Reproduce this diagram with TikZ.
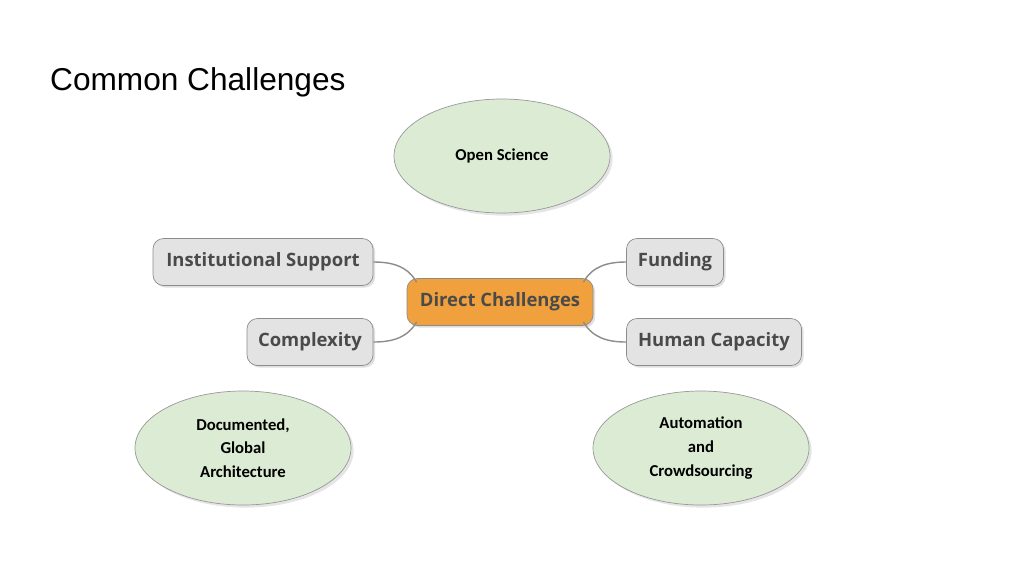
\documentclass[tikz,border=0pt]{standalone}
\usepackage{fontspec}
\setmainfont{Liberation Sans}
\newfontfamily\bubblefont{Carlito}
\newfontfamily\mapfont{Open Sans}
\usetikzlibrary{positioning, shadows, shapes.geometric}
\definecolor{bubblegreen}{HTML}{DCEBD3}
\definecolor{mapgray}{HTML}{E3E3E3}
\definecolor{maporange}{HTML}{F0A03C}
\definecolor{maptext}{HTML}{4A4A4A}

\begin{document}
\begin{tikzpicture}[x=0.02cm, y=-0.02cm]
        \tikzset{
            bubble/.style={ellipse, draw=gray!80, fill=bubblegreen, minimum width=216*0.02cm, minimum height=114*0.02cm, align=center, font=\bubblefont\bfseries\fontsize{9.5}{13.5}\selectfont, drop shadow={shadow xshift=1.5pt, shadow yshift=-1.5pt, fill=gray!40}},
            topic/.style={rounded corners=6pt, draw=gray!90, fill=mapgray, minimum height=47*0.02cm, text=maptext, font=\mapfont\bfseries\fontsize{10.5}{12}\selectfont, drop shadow={shadow xshift=1.2pt, shadow yshift=-1.2pt, fill=gray!50}},
            link/.style={draw=gray!90, thick}
        }
        \useasboundingbox (0,0) rectangle (1024,576);

        % Titel
        \node[anchor=west, font=\fontsize{18}{20}\selectfont] (title) at (44,82) {Common Challenges};

        % Blasen
        \node[bubble] (open) at (502,156) {Open Science};
        \node[bubble] (doc) at (243,448) {Documented,\\Global\\Architecture};
        \node[bubble] (auto) at (701,448) {Automation\\and\\Crowdsourcing};

        % Mind map
        \node[topic, fill=maporange, minimum width=186*0.02cm] (dc) at (500,302) {Direct Challenges};
        \node[topic, minimum width=220*0.02cm] (inst) at (263,262) {Institutional Support};
        \node[topic, minimum width=126*0.02cm] (comp) at (310,342) {Complexity};
        \node[topic, minimum width=97*0.02cm] (fund) at (675,262) {Funding};
        \node[topic, minimum width=175*0.02cm] (human) at (714,342) {Human Capacity};

        \draw[link] (inst.east) to[out=0, in=120] ([xshift=10*0.02cm, yshift=-4*0.02cm]dc.north west);
        \draw[link] (comp.east) to[out=0, in=240] ([xshift=10*0.02cm, yshift=4*0.02cm]dc.south west);
        \draw[link] (fund.west) to[out=180, in=60] ([xshift=-10*0.02cm, yshift=-4*0.02cm]dc.north east);
        \draw[link] (human.west) to[out=180, in=300] ([xshift=-10*0.02cm, yshift=4*0.02cm]dc.south east);
    \end{tikzpicture}
\end{document}
